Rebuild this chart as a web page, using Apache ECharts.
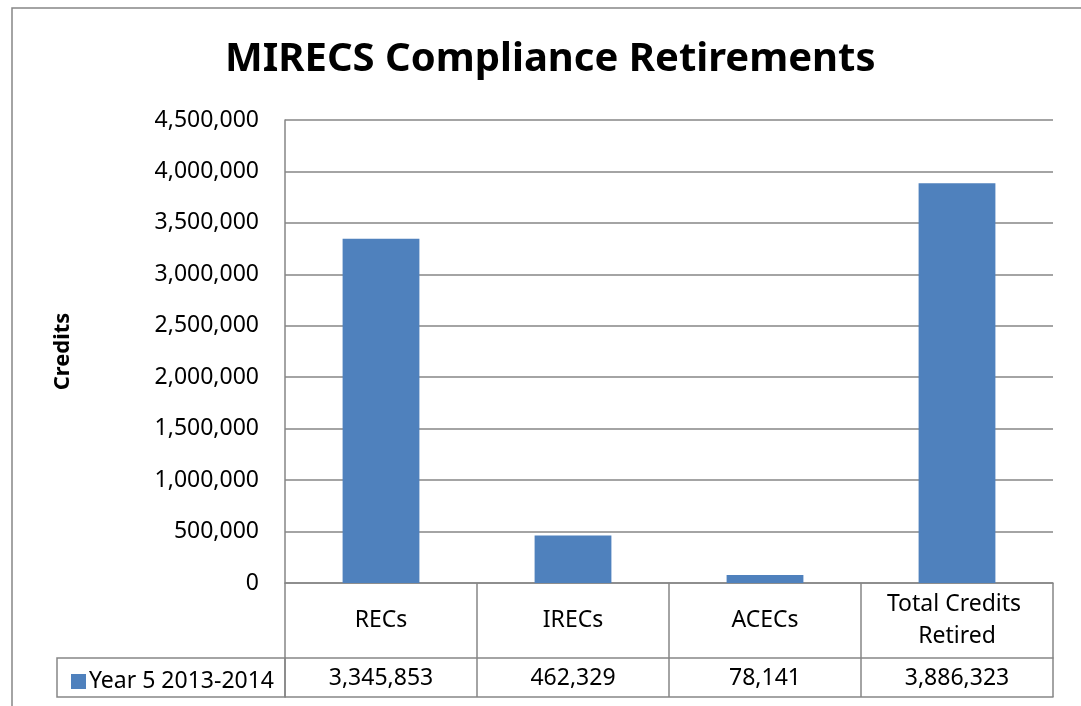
<!DOCTYPE html>
<html>
    <head>
        <meta charset="utf-8">
        <script src="https://cdn.jsdelivr.net/npm/echarts@6/dist/echarts.min.js"></script>
    </head>
    <body style="margin:0">
        <style>
            html, body, #main {
                width: 1081px;
                height: 706px;
                background: #fff;
            }
        </style>
        <div id="main"></div>
        <script>
            var categories = ['RECs', 'IRECs', 'ACECs', 'Total Credits Retired'];
            var seriesName = 'Year 5 2013-2014';
            var values = [3345853, 462329, 78141, 3886323];
            var yTicks = [0, 500000, 1000000, 1500000, 2000000, 2500000, 3000000, 3500000, 4000000, 4500000];

            var font = '"Noto Sans", sans-serif';
            var lineColor = '#868686';

            function fmt(v) {
                return String(v).replace(/\B(?=(\d{3})+(?!\d))/g, ',');
            }

            var chart = echarts.init(document.getElementById('main'));

            chart.setOption({
                animation: false,
                title: {
                    text: 'MIRECS Compliance Retirements',
                    left: 220,
                    top: 35,
                    textStyle: {
                        fontFamily: font,
                        fontSize: 40,
                        fontWeight: 'bold',
                        color: '#000'
                    }
                },
                graphic: [
                    {
                        // chart frame, cut off at right and bottom
                        type: 'rect',
                        shape: {x: 12, y: 8, width: 1200, height: 800},
                        style: {fill: null, stroke: lineColor, lineWidth: 1.5}
                    },
                    {
                        // legend cell of the data table
                        type: 'rect',
                        shape: {x: 57, y: 658, width: 228, height: 39},
                        style: {fill: null, stroke: lineColor, lineWidth: 1.5}
                    }
                ],
                legend: {
                    left: 66,
                    top: 665,
                    itemWidth: 15,
                    itemHeight: 15,
                    icon: 'rect',
                    data: [seriesName],
                    textStyle: {
                        fontFamily: font,
                        fontSize: 23,
                        color: '#000',
                        padding: [0, 0, 0, -2]
                    }
                },
                grid: {
                    left: 285,
                    right: 28,
                    top: 120,
                    bottom: 123
                },
                xAxis: [
                    {
                        type: 'category',
                        data: categories,
                        position: 'bottom',
                        axisLine: {lineStyle: {color: lineColor, width: 1.5}},
                        axisTick: {show: true, length: 75, interval: 0, lineStyle: {color: lineColor, width: 1.5}},
                        axisLabel: {
                            interval: 0,
                            margin: 37,
                            verticalAlign: 'middle',
                            width: 175,
                            overflow: 'break',
                            lineHeight: 32,
                            fontFamily: font,
                            fontSize: 23,
                            color: '#000'
                        }
                    },
                    {
                        type: 'category',
                        data: categories,
                        position: 'bottom',
                        offset: 75,
                        axisLine: {lineStyle: {color: lineColor, width: 1.5}},
                        axisTick: {show: true, length: 39, interval: 0, lineStyle: {color: lineColor, width: 1.5}},
                        axisLabel: {
                            interval: 0,
                            margin: 20,
                            verticalAlign: 'middle',
                            fontFamily: font,
                            fontSize: 23,
                            color: '#000',
                            formatter: function (v, i) {
                                return fmt(values[i]);
                            }
                        }
                    },
                    {
                        type: 'category',
                        data: categories,
                        position: 'bottom',
                        offset: 114,
                        axisLine: {lineStyle: {color: lineColor, width: 1.5}},
                        axisTick: {show: false},
                        axisLabel: {show: false}
                    }
                ],
                yAxis: {
                    type: 'value',
                    min: yTicks[0],
                    max: yTicks[yTicks.length - 1],
                    interval: yTicks[1] - yTicks[0],
                    name: 'Credits',
                    nameLocation: 'middle',
                    nameGap: 211,
                    nameRotate: 90,
                    nameTextStyle: {
                        fontFamily: font,
                        fontSize: 22,
                        fontWeight: 'bold',
                        color: '#000'
                    },
                    axisLine: {show: true, lineStyle: {color: lineColor, width: 1.5}},
                    axisTick: {show: false},
                    splitLine: {lineStyle: {color: lineColor, width: 1.5}},
                    axisLabel: {
                        margin: 26,
                        fontFamily: font,
                        fontSize: 23,
                        color: '#000',
                        formatter: fmt
                    }
                },
                series: [
                    {
                        name: seriesName,
                        type: 'bar',
                        data: values,
                        barWidth: '40%',
                        itemStyle: {color: '#4F81BD'}
                    }
                ]
            });
        </script>
    </body>
</html>
